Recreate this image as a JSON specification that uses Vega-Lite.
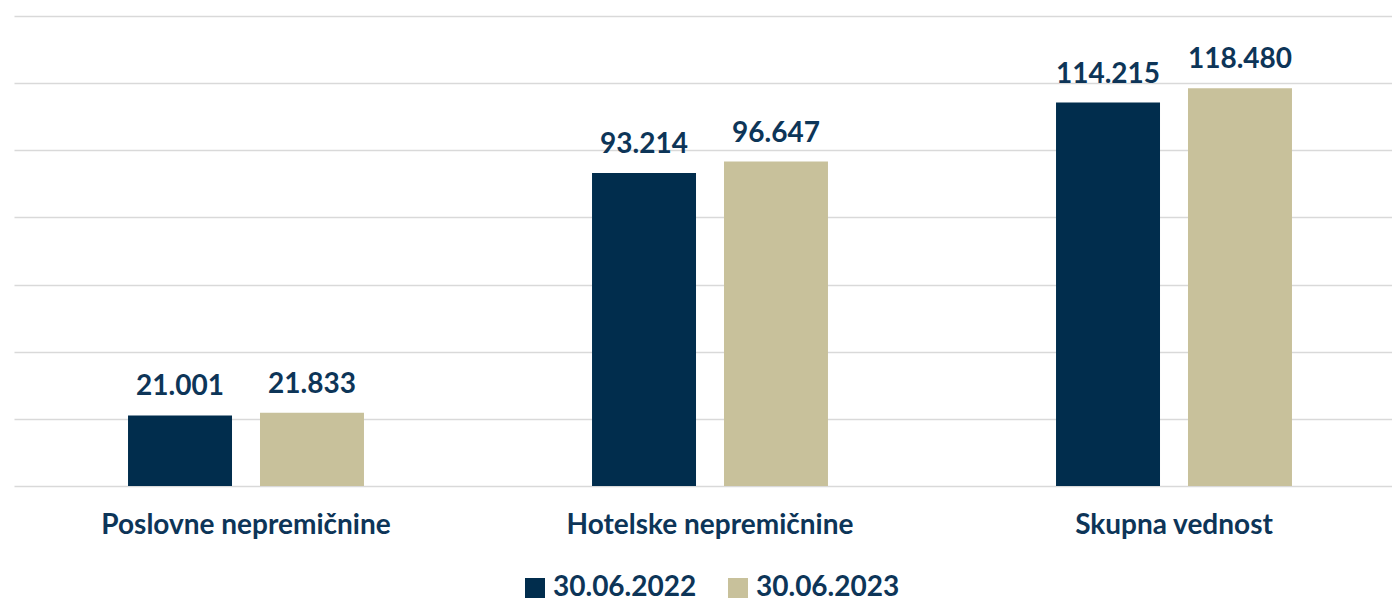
{
  "$schema": "https://vega.github.io/schema/vega-lite/v6.json",
  "width": 1392,
  "height": 470,
  "padding": {"left": 14, "top": 16, "right": 0, "bottom": 0},
  "autosize": {"type": "pad"},
  "background": "white",
  "config": {"view": {"stroke": null}, "font": "Lato"},
  "data": {"values": [
    {"cat": "Poslovne nepremičnine", "date": "30.06.2022", "value": 21.001, "label": "21.001"},
    {"cat": "Poslovne nepremičnine", "date": "30.06.2023", "value": 21.833, "label": "21.833"},
    {"cat": "Hotelske nepremičnine", "date": "30.06.2022", "value": 93.214, "label": "93.214"},
    {"cat": "Hotelske nepremičnine", "date": "30.06.2023", "value": 96.647, "label": "96.647"},
    {"cat": "Skupna vednost", "date": "30.06.2022", "value": 114.215, "label": "114.215"},
    {"cat": "Skupna vednost", "date": "30.06.2023", "value": 118.48, "label": "118.480"}
  ]},
  "encoding": {
    "x": {"field": "cat", "type": "nominal", "sort": null, "title": null,
      "scale": {"paddingInner": 0, "paddingOuter": 0},
      "axis": {"labelAngle": 0, "domain": false, "ticks": false, "labelFontSize": 28, "labelFontWeight": "bold", "labelColor": "#0d3558", "labelPadding": 25, "labelBaseline": "top", "labelLimit": 500}},
    "xOffset": {"field": "date", "type": "nominal", "scale": {"paddingInner": 0.212, "paddingOuter": 0.864}},
    "y": {"field": "value", "type": "quantitative", "title": null,
      "scale": {"domain": [0, 140], "nice": false},
      "axis": {"values": [0, 20, 40, 60, 80, 100, 120, 140], "labels": false, "ticks": false, "domain": false, "grid": true, "gridColor": "#d9d9d9", "gridWidth": 1.5}}
  },
  "layer": [
    {"mark": {"type": "bar"},
     "encoding": {"color": {"field": "date", "type": "nominal", "title": null,
        "scale": {"domain": ["30.06.2022", "30.06.2023"], "range": ["#012d4d", "#c8c19b"]},
        "legend": {"orient": "none", "legendX": 507, "legendY": 558, "direction": "horizontal", "symbolType": "square", "symbolSize": 400, "symbolStrokeWidth": 0, "labelFontSize": 28, "labelFontWeight": "bold", "labelColor": "#0d3558", "labelOffset": 4, "columnPadding": 27, "labelLimit": 300}}}},
    {"mark": {"type": "text", "fontSize": 28, "fontWeight": "bold", "color": "#0d3558", "baseline": "alphabetic", "dy": -20},
     "encoding": {"text": {"field": "label"}}}
  ]
}
